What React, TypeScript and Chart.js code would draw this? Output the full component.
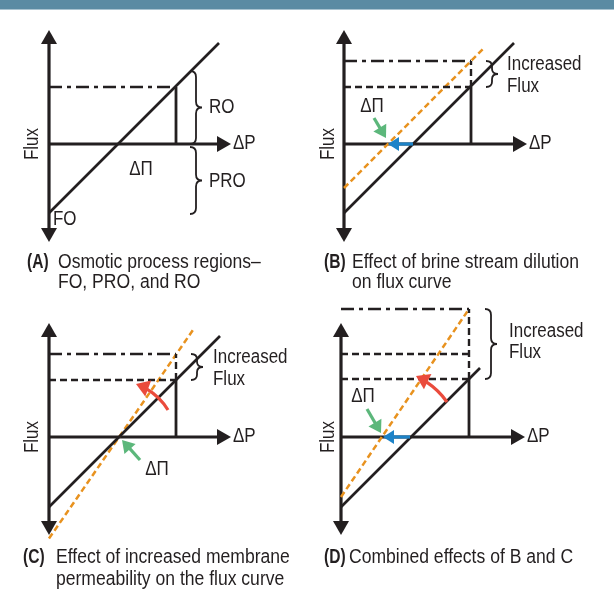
import React, { useEffect, useRef } from 'react';
import { Chart, registerables } from 'chart.js';
Chart.register(...registerables);

type P = [number, number];

// ---------- DATA (ΔP horizontally, Flux vertically; arbitrary units) ----------
const fluxAxisRange: P = [-9.8, 11.4];

// Panel A: osmotic process regions
const aDeltaPAxisEnd = 18.2;
const aFluxCurve: P[] = [[0, -6.9], [17, 10.1]];
const aOperatingDeltaP = 12.7;
const aOperatingFlux = 5.7;
const aRORange: P = [0, 7.3];
const aPRORange: P = [-7.0, -0.3];

// Panel B: brine stream dilution (curve shifts left)
const bDeltaPAxisEnd = 18.3;
const bFluxCurve: P[] = [[0, -6.9], [17, 10.1]];
const bDilutedCurve: P[] = [[0, -4.4], [14, 9.6]];
const bOperatingDeltaP = 12.7;
const bFluxLevels: P = [5.7, 8.3];
const bShiftArrow: P[] = [[6.9, 0], [4.4, 0]];
const bPiArrow: P[] = [[3.0, 2.6], [4.2, 0.6]];

// Panel C: increased membrane permeability (curve rotates about ΔΠ)
const cDeltaPAxisEnd = 18.2;
const cFluxCurve: P[] = [[0, -7.0], [17.1, 10.1]];
const cPermeableCurve: P[] = [[0, -10.15], [14.4, 10.7]];
const cOperatingDeltaP = 12.7;
const cFluxLevels: P = [5.7, 8.3];
const cRotateArrow: P[] = [[11.9, 2.7], [10.74, 4.55], [8.7, 5.3]];
const cPiArrow: P[] = [[9.1, -2.3], [7.3, -0.3]];

// Panel D: combined effects
const dDeltaPAxisEnd = 18.4;
const dFluxCurve: P[] = [[0, -7.0], [13.9, 6.9]];
const dCombinedCurve: P[] = [[0, -6.0], [12.8, 12.8]];
const dOperatingDeltaP = 12.8;
const dFluxLevels: number[] = [5.8, 8.3, 12.8];
const dRotateArrow: P[] = [[10.6, 3.5], [9.48, 5.13], [7.5, 6.1]];
const dShiftArrow: P[] = [[6.9, 0], [4.2, 0]];
const dPiArrow: P[] = [[2.6, 2.8], [4.0, 0.4]];

// ---------- STYLE ----------
const INK = '#231f20';
const ORANGE = '#e8921f';
const BLUE = '#1d83c8';
const GREEN = '#5cb77b';
const RED = '#ea4b3c';
const FONT = '"Liberation Sans", Arial, Helvetica, sans-serif';
const DASH = [7, 4];
const DASHDOT = [13, 5, 4, 5];
const ODASH = [6, 3.5];

type LineSpec = { pts: P[]; color: string; width: number; dash?: number[] };
type ArrowSpec = { pts: P[]; color: string; len: number; half: number; width: number };
type LabelSpec = { text: string; x: number; y: number; align?: CanvasTextAlign; rotate?: boolean };
type PanelSpec = {
  left: number; top: number; w: number; h: number;
  xr: P; yr: P;
  axisEnd: number;
  lines: LineSpec[];
  arrows: ArrowSpec[];
  braces: { x: number; y0: number; y1: number }[];
  labels: LabelSpec[];
  caption: { tag: string; lines: string[]; tagX: number; textX: number; y: number; gap: number };
};

const seg = (a: P, b: P): P[] => [a, b];
const LW = 2.6;

const panels: PanelSpec[] = [
  {
    left: 0, top: 10, w: 307, h: 290, xr: [-4.9, 25.8], yr: [-15.6, 13.4],
    axisEnd: aDeltaPAxisEnd,
    lines: [
      { pts: aFluxCurve, color: INK, width: LW },
      { pts: seg([0, aOperatingFlux], [aOperatingDeltaP, aOperatingFlux]), color: INK, width: 2.6, dash: DASHDOT },
      { pts: seg([aOperatingDeltaP, 0], [aOperatingDeltaP, aOperatingFlux]), color: INK, width: 2.8 },
    ],
    arrows: [],
    braces: [{ x: 14.7, y0: aRORange[0], y1: aRORange[1] }, { x: 14.7, y0: aPRORange[0], y1: aPRORange[1] }],
    labels: [
      { text: 'RO', x: 16.0, y: 3.6 },
      { text: 'PRO', x: 16.0, y: -3.8 },
      { text: 'ΔP', x: 18.4, y: 0 },
      { text: 'ΔΠ', x: 9.2, y: -2.6, align: 'center' },
      { text: 'FO', x: 0.4, y: -7.6 },
      { text: 'Flux', x: -1.6, y: 0, align: 'center', rotate: true },
    ],
    caption: { tag: '(A)', lines: ['Osmotic process regions–', 'FO, PRO, and RO'], tagX: 27, textX: 58, y: 253, gap: 20 },
  },
  {
    left: 307, top: 10, w: 307, h: 290, xr: [-3.7, 27.0], yr: [-15.6, 13.4],
    axisEnd: bDeltaPAxisEnd,
    lines: [
      { pts: bFluxCurve, color: INK, width: LW },
      { pts: seg([0, bFluxLevels[0]], [bOperatingDeltaP, bFluxLevels[0]]), color: INK, width: 2.4, dash: DASH },
      { pts: seg([0, bFluxLevels[1]], [bOperatingDeltaP, bFluxLevels[1]]), color: INK, width: 2.6, dash: DASHDOT },
      { pts: seg([bOperatingDeltaP, bFluxLevels[0]], [bOperatingDeltaP, bFluxLevels[1]]), color: INK, width: 2.4, dash: DASH },
      { pts: seg([bOperatingDeltaP, 0], [bOperatingDeltaP, bFluxLevels[0]]), color: INK, width: 2.8 },
      { pts: bDilutedCurve, color: ORANGE, width: 2.5, dash: ODASH },
    ],
    arrows: [
      { pts: bShiftArrow, color: BLUE, len: 11, half: 7, width: 3.2 },
      { pts: bPiArrow, color: GREEN, len: 12, half: 7.5, width: 3.2 },
    ],
    braces: [{ x: 14.8, y0: bFluxLevels[0], y1: bFluxLevels[1] }],
    labels: [
      { text: 'Increased', x: 16.3, y: 7.9 },
      { text: 'Flux', x: 16.3, y: 5.7 },
      { text: 'ΔΠ', x: 2.8, y: 3.7, align: 'center' },
      { text: 'ΔP', x: 18.5, y: 0 },
      { text: 'Flux', x: -1.5, y: 0, align: 'center', rotate: true },
    ],
    caption: { tag: '(B)', lines: ['Effect of brine stream dilution', 'on flux curve'], tagX: 17, textX: 45, y: 253, gap: 20 },
  },
  {
    left: 0, top: 300, w: 307, h: 306, xr: [-4.9, 25.8], yr: [-16.9, 13.7],
    axisEnd: cDeltaPAxisEnd,
    lines: [
      { pts: cFluxCurve, color: INK, width: LW },
      { pts: seg([0, cFluxLevels[0]], [cOperatingDeltaP, cFluxLevels[0]]), color: INK, width: 2.4, dash: DASH },
      { pts: seg([0, cFluxLevels[1]], [cOperatingDeltaP, cFluxLevels[1]]), color: INK, width: 2.6, dash: DASHDOT },
      { pts: seg([cOperatingDeltaP, cFluxLevels[0]], [cOperatingDeltaP, cFluxLevels[1]]), color: INK, width: 2.4, dash: DASH },
      { pts: seg([cOperatingDeltaP, 0], [cOperatingDeltaP, cFluxLevels[0]]), color: INK, width: 2.8 },
      { pts: cPermeableCurve, color: ORANGE, width: 2.5, dash: ODASH },
    ],
    arrows: [
      { pts: cRotateArrow, color: RED, len: 13, half: 8.5, width: 3.2 },
      { pts: cPiArrow, color: GREEN, len: 12, half: 7.5, width: 3.2 },
    ],
    braces: [{ x: 14.8, y0: cFluxLevels[0], y1: cFluxLevels[1] }],
    labels: [
      { text: 'Increased', x: 16.4, y: 7.9 },
      { text: 'Flux', x: 16.4, y: 5.7 },
      { text: 'ΔΠ', x: 10.8, y: -3.3, align: 'center' },
      { text: 'ΔP', x: 18.4, y: 0 },
      { text: 'Flux', x: -1.6, y: 0, align: 'center', rotate: true },
    ],
    caption: { tag: '(C)', lines: ['Effect of increased membrane', 'permeability on the flux curve'], tagX: 23, textX: 56, y: 258, gap: 22 },
  },
  {
    left: 307, top: 300, w: 307, h: 306, xr: [-3.4, 27.3], yr: [-16.9, 13.7],
    axisEnd: dDeltaPAxisEnd,
    lines: [
      { pts: dFluxCurve, color: INK, width: LW },
      { pts: seg([0, dFluxLevels[0]], [dOperatingDeltaP, dFluxLevels[0]]), color: INK, width: 2.4, dash: DASH },
      { pts: seg([0, dFluxLevels[1]], [dOperatingDeltaP, dFluxLevels[1]]), color: INK, width: 2.4, dash: DASH },
      { pts: seg([0, dFluxLevels[2]], [dOperatingDeltaP, dFluxLevels[2]]), color: INK, width: 2.6, dash: DASHDOT },
      { pts: seg([dOperatingDeltaP, dFluxLevels[0]], [dOperatingDeltaP, dFluxLevels[2]]), color: INK, width: 2.4, dash: DASH },
      { pts: seg([dOperatingDeltaP, 0], [dOperatingDeltaP, dFluxLevels[0]]), color: INK, width: 2.8 },
      { pts: dCombinedCurve, color: ORANGE, width: 2.5, dash: ODASH },
    ],
    arrows: [
      { pts: dRotateArrow, color: RED, len: 13, half: 8.5, width: 3.2 },
      { pts: dShiftArrow, color: BLUE, len: 11, half: 7, width: 3.2 },
      { pts: dPiArrow, color: GREEN, len: 12, half: 7.5, width: 3.2 },
    ],
    braces: [{ x: 15.0, y0: dFluxLevels[0], y1: dFluxLevels[2] }],
    labels: [
      { text: 'Increased', x: 16.8, y: 10.5 },
      { text: 'Flux', x: 16.8, y: 8.4 },
      { text: 'ΔΠ', x: 2.2, y: 4.0, align: 'center' },
      { text: 'ΔP', x: 18.6, y: 0 },
      { text: 'Flux', x: -1.2, y: 0, align: 'center', rotate: true },
    ],
    caption: { tag: '(D)', lines: ['Combined effects of B and C'], tagX: 17, textX: 42, y: 258, gap: 22 },
  },
];

// ---------- DRAW HELPERS ----------
function drawText(ctx: CanvasRenderingContext2D, text: string, x: number, y: number,
  o: { size?: number; bold?: boolean; align?: CanvasTextAlign; rotate?: boolean; sx?: number } = {}) {
  const { size = 19.5, bold = false, align = 'left', rotate = false, sx = 0.87 } = o;
  ctx.save();
  ctx.translate(x, y);
  if (rotate) ctx.rotate(-Math.PI / 2);
  ctx.scale(sx, 1);
  ctx.font = `${bold ? 'bold ' : ''}${size}px ${FONT}`;
  ctx.fillStyle = INK;
  ctx.textAlign = align;
  ctx.textBaseline = 'middle';
  ctx.fillText(text, 0, 0);
  ctx.restore();
}

function head(ctx: CanvasRenderingContext2D, tx: number, ty: number, fx: number, fy: number, len: number, half: number, color: string) {
  const a = Math.atan2(ty - fy, tx - fx);
  ctx.save();
  ctx.translate(tx, ty);
  ctx.rotate(a);
  ctx.beginPath();
  ctx.moveTo(0, 0);
  ctx.lineTo(-len, half);
  ctx.lineTo(-len, -half);
  ctx.closePath();
  ctx.fillStyle = color;
  ctx.fill();
  ctx.restore();
}

function brace(ctx: CanvasRenderingContext2D, x: number, yTop: number, yBot: number, w: number) {
  const mid = (yTop + yBot) / 2;
  const r = Math.min(6, (yBot - yTop) / 5);
  ctx.beginPath();
  ctx.moveTo(x - w, yTop);
  ctx.quadraticCurveTo(x, yTop, x, yTop + r);
  ctx.lineTo(x, mid - r);
  ctx.quadraticCurveTo(x, mid, x + w, mid);
  ctx.quadraticCurveTo(x, mid, x, mid + r);
  ctx.lineTo(x, yBot - r);
  ctx.quadraticCurveTo(x, yBot, x - w, yBot);
  ctx.lineWidth = 1.8;
  ctx.strokeStyle = INK;
  ctx.stroke();
}

function makePlugin(spec: PanelSpec) {
  return {
    id: 'diagram',
    beforeDatasetsDraw(chart: any) {
      const ctx: CanvasRenderingContext2D = chart.ctx;
      const xs = chart.scales.x, ys = chart.scales.y;
      const X = (v: number) => xs.getPixelForValue(v);
      const Y = (v: number) => ys.getPixelForValue(v);
      const AL = 14, AH = 8;
      ctx.save();
      ctx.strokeStyle = INK;
      ctx.lineWidth = 3.2;
      ctx.lineCap = 'butt';
      const x0 = X(0);
      const yT = Y(fluxAxisRange[1]), yB = Y(fluxAxisRange[0]);
      ctx.beginPath();
      ctx.moveTo(x0, yT + AL - 1);
      ctx.lineTo(x0, yB - AL + 1);
      ctx.stroke();
      head(ctx, x0, yT, x0, yT + 10, AL, AH, INK);
      head(ctx, x0, yB, x0, yB - 10, AL, AH, INK);
      const y0 = Y(0), xE = X(spec.axisEnd);
      ctx.beginPath();
      ctx.moveTo(x0, y0);
      ctx.lineTo(xE - AL + 1, y0);
      ctx.stroke();
      head(ctx, xE, y0, xE - 10, y0, AL, AH, INK);
      ctx.restore();
    },
    afterDatasetsDraw(chart: any) {
      const ctx: CanvasRenderingContext2D = chart.ctx;
      const xs = chart.scales.x, ys = chart.scales.y;
      const X = (v: number) => xs.getPixelForValue(v);
      const Y = (v: number) => ys.getPixelForValue(v);
      ctx.save();
      for (const a of spec.arrows) {
        const pts = a.pts.map(([px, py]) => [X(px), Y(py)]);
        ctx.strokeStyle = a.color;
        ctx.lineWidth = a.width;
        ctx.lineCap = 'butt';
        if (pts.length === 2) {
          const [[sx, sy], [tx, ty]] = pts;
          const d = Math.hypot(tx - sx, ty - sy);
          const k = (d - a.len + 1) / d;
          ctx.beginPath();
          ctx.moveTo(sx, sy);
          ctx.lineTo(sx + (tx - sx) * k, sy + (ty - sy) * k);
          ctx.stroke();
          head(ctx, tx, ty, sx, sy, a.len, a.half, a.color);
        } else {
          const [[sx, sy], [cx, cy], [tx, ty]] = pts;
          const approx = Math.hypot(cx - sx, cy - sy) + Math.hypot(tx - cx, ty - cy);
          const t = Math.max(0.5, 1 - (a.len - 1) / approx);
          const c1x = sx + (cx - sx) * t, c1y = sy + (cy - sy) * t;
          const e1x = (1 - t) * (1 - t) * sx + 2 * (1 - t) * t * cx + t * t * tx;
          const e1y = (1 - t) * (1 - t) * sy + 2 * (1 - t) * t * cy + t * t * ty;
          ctx.beginPath();
          ctx.moveTo(sx, sy);
          ctx.quadraticCurveTo(c1x, c1y, e1x, e1y);
          ctx.stroke();
          head(ctx, tx, ty, cx, cy, a.len, a.half, a.color);
        }
      }
      for (const b of spec.braces) {
        brace(ctx, X(b.x), Y(b.y1), Y(b.y0), 6);
      }
      for (const l of spec.labels) {
        drawText(ctx, l.text, X(l.x), Y(l.y), { align: l.align || 'left', rotate: l.rotate });
      }
      const c = spec.caption;
      drawText(ctx, c.tag, c.tagX, c.y, { bold: true, size: 19.5, sx: 0.8 });
      c.lines.forEach((t, i) => drawText(ctx, t, c.textX, c.y + i * c.gap, { size: 19.5, sx: 0.9 }));
      ctx.restore();
    },
  };
}

function Panel({ spec }: { spec: PanelSpec }) {
  const ref = useRef<HTMLCanvasElement>(null);
  useEffect(() => {
    if (!ref.current) return;
    const chart = new Chart(ref.current, {
      type: 'scatter',
      data: {
        datasets: spec.lines.map((l) => ({
          data: l.pts.map(([x, y]) => ({ x, y })),
          showLine: true,
          borderColor: l.color,
          backgroundColor: l.color,
          borderWidth: l.width,
          borderDash: l.dash || [],
          borderCapStyle: 'butt',
          pointRadius: 0,
          pointHoverRadius: 0,
          fill: false,
          tension: 0,
          clip: false,
        })),
      },
      options: {
        responsive: false,
        maintainAspectRatio: false,
        animation: false,
        events: [],
        layout: { padding: 0 },
        plugins: { legend: { display: false }, tooltip: { enabled: false } },
        scales: {
          x: { type: 'linear', display: false, min: spec.xr[0], max: spec.xr[1] },
          y: { type: 'linear', display: false, min: spec.yr[0], max: spec.yr[1] },
        },
      } as any,
      plugins: [makePlugin(spec)],
    });
    return () => chart.destroy();
  }, [spec]);
  return (
    <canvas
      ref={ref}
      width={spec.w}
      height={spec.h}
      style={{ position: 'absolute', left: spec.left, top: spec.top, width: spec.w, height: spec.h }}
    />
  );
}

export default function App() {
  return (
    <div style={{ position: 'fixed', left: 0, top: 0, width: 614, height: 606, background: '#fff', overflow: 'hidden' }}>
      <div style={{ position: 'absolute', left: 0, top: 0, width: 614, height: 9, background: '#5a8ba3' }} />
      <div style={{ position: 'absolute', left: 0, top: 9, width: 614, height: 1, background: '#a8c3d0' }} />
      {panels.map((p, i) => (
        <Panel key={i} spec={p} />
      ))}
    </div>
  );
}
